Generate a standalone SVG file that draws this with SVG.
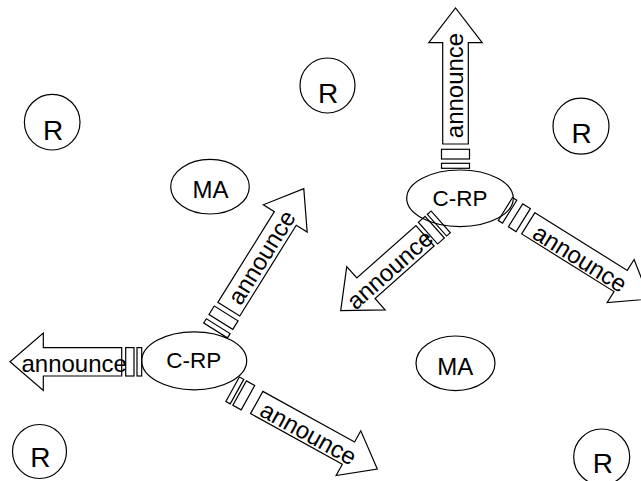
<svg xmlns="http://www.w3.org/2000/svg" width="641" height="481" viewBox="0 0 641 481">
<style>
.s{fill:none;stroke:#000;stroke-width:1.2}
.t{font-family:"Liberation Sans",Arial,Helvetica,sans-serif;fill:#000;text-anchor:middle}
.r{font-size:28px}
.ma{font-size:24px}
.c{font-size:22.5px}
.a{font-size:24px}
</style>
<rect width="641" height="481" fill="#fff"/>
<g id="connectors">
  <g id="arrow-a" transform="translate(455.5,144) rotate(-90)">
    <polygon class="s" points="0,-12.8 101.3,-12.8 101.3,-26.7 136,0 101.3,26.7 101.3,12.8 0,12.8"/>
    <rect class="s" x="-15" y="-14" width="9.7" height="28"/>
    <rect class="s" x="-24.3" y="-14" width="5" height="28"/>
  </g>
  <text class="t a" transform="translate(463,85.5) rotate(-90)">announce</text>

  <g id="arrow-b" transform="translate(425,235.8) rotate(138.4)">
    <polygon class="s" points="0,-13.7 79,-13.7 79,-28.9 112.7,0 79,28.9 79,13.7 0,13.7"/>
    <rect class="s" x="-13" y="-14.5" width="9" height="29"/>
    <rect class="s" x="-21" y="-14.5" width="5" height="29"/>
  </g>
  <text class="t a" transform="translate(395.2,275.7) rotate(-41.6)">announce</text>

  <g id="arrow-c" transform="translate(528.3,223.3) rotate(32)">
    <polygon class="s" points="0,-12.5 108.9,-12.5 108.9,-25.4 142.9,0 108.9,25.4 108.9,12.5 0,12.5"/>
    <rect class="s" x="-15" y="-13.5" width="9" height="27"/>
    <rect class="s" x="-27" y="-13.5" width="5" height="27"/>
  </g>
  <text class="t a" transform="translate(575.7,265.3) rotate(32)">announce</text>

  <g id="arrow-d" transform="translate(228.8,309.2) rotate(-58.1)">
    <polygon class="s" points="0,-12.9 106.9,-12.9 106.9,-25.8 141.9,0 106.9,25.8 106.9,12.9 0,12.9"/>
    <rect class="s" x="-15" y="-14" width="10" height="28"/>
    <rect class="s" x="-25" y="-14" width="5" height="28"/>
  </g>
  <text class="t a" transform="translate(268.7,261.7) rotate(-58.1)">announce</text>

  <g id="arrow-e" transform="translate(121.7,361.8) rotate(180)">
    <polygon class="s" points="0,-14.2 78.4,-14.2 78.4,-28.7 111.7,0 78.4,28.7 78.4,14.2 0,14.2"/>
    <rect class="s" x="-12.3" y="-14.2" width="8.3" height="28.4"/>
    <rect class="s" x="-20" y="-14.2" width="4.7" height="28.4"/>
  </g>
  <text class="t a" x="74.2" y="371.7">announce</text>

  <g id="arrow-f" transform="translate(256.7,402.5) rotate(28.9)">
    <polygon class="s" points="0,-12.7 104.8,-12.7 104.8,-25.5 137.8,0 104.8,25.5 104.8,12.7 0,12.7"/>
    <rect class="s" x="-19.5" y="-14" width="9.5" height="28"/>
    <rect class="s" x="-27.5" y="-14" width="5" height="28"/>
  </g>
  <text class="t a" transform="translate(304.5,440.5) rotate(28.9)">announce</text>
</g>

<g id="r1"><circle class="s" cx="52.2" cy="122.2" r="27.8"/><text class="t r" x="53.2" y="140">R</text></g>
<g id="r2"><circle class="s" cx="327.5" cy="85.5" r="27.5"/><text class="t r" x="328.2" y="103.3">R</text></g>
<g id="r3"><circle class="s" cx="581" cy="126.2" r="28"/><text class="t r" x="581.5" y="143.3">R</text></g>
<g id="r4"><circle class="s" cx="39.5" cy="451.5" r="27"/><text class="t r" x="40.3" y="467.3">R</text></g>
<g id="r5"><circle class="s" cx="601.7" cy="457" r="28"/><text class="t r" x="602.8" y="473.3">R</text></g>

<g id="ma1"><ellipse class="s" cx="210" cy="186.7" rx="39.3" ry="27.3"/><text class="t ma" x="210.5" y="198.3">MA</text></g>
<g id="ma2"><ellipse class="s" cx="455.5" cy="363.3" rx="39.5" ry="27.3"/><text class="t ma" x="455.3" y="375">MA</text></g>

<g id="crp1"><ellipse class="s" cx="194.2" cy="360.8" rx="52.5" ry="29"/><text class="t c" x="193.7" y="368.3">C-RP</text></g>
<g id="crp2"><ellipse class="s" cx="460" cy="198.3" rx="53.3" ry="28.3"/><text class="t c" x="460" y="205.8">C-RP</text></g>
</svg>
